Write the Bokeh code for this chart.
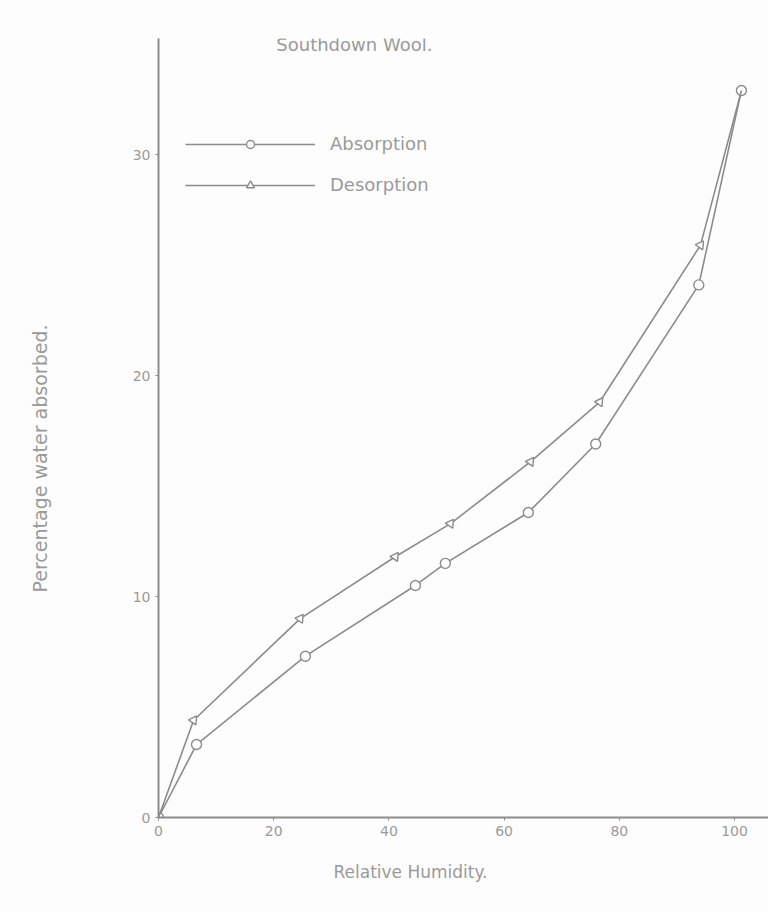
from bokeh.plotting import figure
from bokeh.models import Range1d, Label, Legend, LegendItem, FixedTicker, Title
from bokeh.embed import file_html
from bokeh.resources import INLINE

# Adsorption (open circles)
rh_ads = [0, 6.6, 25.5, 44.6, 49.8, 64.2, 75.9, 93.8, 101.2]
w_ads = [0, 3.3, 7.3, 10.5, 11.5, 13.8, 16.9, 24.1, 32.9]
# Desorption (triangles)
rh_des = [101.2, 94.1, 76.6, 64.6, 50.7, 41.1, 24.6, 6.1, 0]
w_des = [32.9, 25.9, 18.8, 16.1, 13.3, 11.8, 9.0, 4.4, 0]

x_ticks = [0, 20, 40, 60, 80, 100]
y_ticks = [0, 10, 20, 30]

INK = "#8c8c8c"
TXT = "#9a9a9a"
FONT = "DejaVu Sans"

p = figure(width=768, height=912, output_backend="svg", toolbar_location=None,
           x_range=Range1d(0, 105.9), y_range=Range1d(0, 35.25),
           min_border_left=158, min_border_right=0, min_border_top=38, min_border_bottom=95,
           frame_width=610, frame_height=779)
p.background_fill_color = "#fdfdfd"
p.border_fill_color = "#fdfdfd"
p.outline_line_color = None
p.grid.visible = False

for ax in (p.xaxis[0], p.yaxis[0]):
    ax.axis_line_color = INK
    ax.axis_line_width = 2
    ax.major_tick_line_color = INK
    ax.major_tick_in = 0
    ax.major_tick_out = 3
    ax.minor_tick_line_color = None
    ax.major_label_text_color = TXT
    ax.major_label_text_font = FONT
    ax.major_label_text_font_size = "14px"

p.xaxis.ticker = FixedTicker(ticks=x_ticks)
p.yaxis.ticker = FixedTicker(ticks=y_ticks)
# spacers so the handwritten-style axis titles sit further out
p.xaxis.axis_label = " "
p.xaxis.axis_label_text_font_size = "8px"
p.xaxis.axis_label_standoff = 4
p.yaxis.axis_label = " "
p.yaxis.axis_label_text_font_size = "17px"
p.yaxis.axis_label_standoff = 52

l1 = p.line(rh_ads, w_ads, line_color=INK, line_width=1.6)
m1 = p.scatter(rh_ads, w_ads, marker="circle", size=10, line_color=INK,
               fill_color="#fdfdfd", line_width=1.4)
l2 = p.line(rh_des, w_des, line_color=INK, line_width=1.6)
m2 = p.scatter(rh_des[1:-1], w_des[1:-1], marker="triangle", size=9, line_color=INK,
               fill_color="#fdfdfd", line_width=1.4, angle=-0.6)

legend = Legend(items=[LegendItem(label="Absorption", renderers=[l1, m1]),
                       LegendItem(label="Desorption", renderers=[l2, m2])],
                location=(27, 622), glyph_width=130, glyph_height=20,
                label_height=20, spacing=20, padding=0, label_standoff=15,
                label_text_font=FONT, label_text_font_size="18px",
                label_text_color=TXT, background_fill_alpha=0,
                border_line_color=None)
p.add_layout(legend)

p.add_layout(Label(x=34.0, y=35.0, text="Southdown Wool.", text_align="center",
                   text_baseline="middle", text_font=FONT, text_font_size="18px",
                   text_color=TXT))

xlab = Title(text="Relative Humidity.", align="left", offset=175,
             text_font=FONT, text_font_size="17px", text_font_style="normal",
             text_color=TXT)
p.add_layout(xlab, "below")
ylab = Title(text="Percentage water absorbed.", align="left", offset=225,
             text_font=FONT, text_font_size="19px", text_font_style="normal",
             text_color=TXT)
p.add_layout(ylab, "left")

open("out.html", "w").write(file_html(p, INLINE))
